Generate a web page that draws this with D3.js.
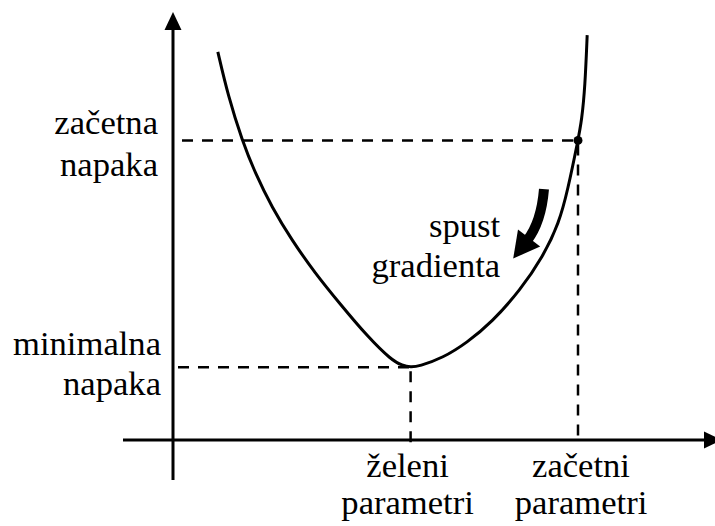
<!DOCTYPE html>
<html>
<head>
<meta charset="utf-8">
<script src="https://cdn.jsdelivr.net/npm/d3@7"></script>
<style>
  body { margin: 0; background: #fff; }
  svg { display: block; }
</style>
</head>
<body>
<svg id="chart"></svg>
<script>
///////////////////
/// CHART DATA  ///
///////////////////

// error curve (parameter, error)
const curveParams = [0.83, 1.02, 1.28, 1.52, 1.83, 2.20, 2.63, 3.10, 3.60, 4.05, 4.25, 4.40, 4.55,
                     5.00, 5.44, 5.91, 6.43, 6.85, 7.15, 7.31, 7.50, 7.57, 7.63, 7.67];
const curveErrors = [9.07, 8.04, 7.00, 6.24, 5.44, 4.67, 3.90, 3.17, 2.42, 1.86, 1.74, 1.70, 1.72,
                     1.92, 2.27, 2.76, 3.50, 4.28, 5.07, 5.84, 7.00, 7.48, 8.25, 9.46];

// marked points: start (začetni) and minimum (želeni)
const markParams = [7.50, 4.40];
const markErrors = [7.00, 1.70];

// labels
const yLabels = [['začetna', 'napaka'], ['minimalna', 'napaka']];
const xLabels = [['začetni', 'parametri'], ['želeni', 'parametri']];
const noteLabel = ['spust', 'gradienta'];

// gradient descent arrow (start, bend, tip) in data units
const arrowParams = [6.87, 6.82, 6.30];
const arrowErrors = [5.86, 5.09, 4.24];

///////////////////
/// SETUP       ///
///////////////////

const width = 715, height = 526;
const fontFamily = "'Liberation Serif', Tinos, 'Times New Roman', 'DejaVu Serif', serif";
const svg = d3.select('#chart').attr('width', width).attr('height', height);

const xScale = d3.scaleLinear().domain([0, 10]).range([173, 713]);
const yScale = d3.scaleLinear().domain([0, 10]).range([440, 12]);

const x0 = xScale(0), y0 = yScale(0);

// axes
const axes = svg.append('g').attr('stroke', '#000').attr('stroke-width', 3);
axes.append('line')
    .attr('x1', x0).attr('y1', y0 + 40)
    .attr('x2', x0).attr('y2', yScale(10) + 14);
axes.append('line')
    .attr('x1', x0 - 50).attr('y1', y0)
    .attr('x2', width - 8).attr('y2', y0);

// arrow heads
svg.append('path')
    .attr('d', d3.line()([[x0, yScale(10)], [x0 - 8.5, yScale(10) + 18], [x0 + 8.5, yScale(10) + 18]]))
    .attr('fill', '#000');
svg.append('path')
    .attr('d', d3.line()([[width + 7, y0], [width - 11, y0 - 8.5], [width - 11, y0 + 8.5]]))
    .attr('fill', '#000');

// dashed guides
const guides = svg.append('g')
    .attr('stroke', '#000')
    .attr('stroke-width', 2.5)
    .attr('stroke-dasharray', '11,9')
    .attr('fill', 'none');

markParams.forEach(function(p, i) {
    const e = markErrors[i];
    guides.append('line')
        .attr('x1', x0 + 9 - i * 4).attr('y1', yScale(e))
        .attr('x2', xScale(p)).attr('y2', yScale(e));
    guides.append('line')
        .attr('x1', xScale(p)).attr('y1', yScale(e) + 4)
        .attr('x2', xScale(p)).attr('y2', y0 + (i === 1 ? 6 : 0));
});

// error curve
const curveData = curveParams.map(function(p, i) { return [p, curveErrors[i]]; });
svg.append('path')
    .datum(curveData)
    .attr('fill', 'none')
    .attr('stroke', '#000')
    .attr('stroke-width', 3)
    .attr('d', d3.line()
        .x(function(d) { return xScale(d[0]); })
        .y(function(d) { return yScale(d[1]); })
        .curve(d3.curveBasis));

// start point
svg.append('circle')
    .attr('cx', xScale(markParams[0]))
    .attr('cy', yScale(markErrors[0]))
    .attr('r', 4.5)
    .attr('fill', '#000');

// gradient descent arrow
const S = [xScale(arrowParams[0]), yScale(arrowErrors[0])];
const C = [xScale(arrowParams[1]), yScale(arrowErrors[1])];
const T = [xScale(arrowParams[2]), yScale(arrowErrors[2])];
const headLen = 26, headHalf = 14;
const dx = T[0] - C[0], dy = T[1] - C[1];
const dl = Math.sqrt(dx * dx + dy * dy);
const ux = dx / dl, uy = dy / dl;
const B = [T[0] - headLen * ux, T[1] - headLen * uy];
svg.append('path')
    .attr('d', 'M' + S + 'Q' + C + ' ' + [B[0] + 3 * ux, B[1] + 3 * uy])
    .attr('fill', 'none')
    .attr('stroke', '#000')
    .attr('stroke-width', 10);
svg.append('path')
    .attr('d', d3.line()([T,
        [B[0] - headHalf * uy, B[1] + headHalf * ux],
        [B[0] + headHalf * uy, B[1] - headHalf * ux]]))
    .attr('fill', '#000');

///////////////////
/// LABELS      ///
///////////////////

const labels = svg.append('g')
    .style('font-family', fontFamily)
    .style('font-size', '35px')
    .attr('fill', '#000');

// fit font size so "minimalna" is ~148px wide whatever font is picked
const probe = labels.append('text').text('minimalna');
const probeW = probe.node().getComputedTextLength();
probe.remove();
const fontSize = probeW > 0 ? Math.min(38, 35 * 148 / probeW) : 35;
labels.style('font-size', fontSize + 'px');

// y-side labels
const yLabelOffsets = [[-6, 36], [-12, 28]];
yLabels.forEach(function(lines, i) {
    lines.forEach(function(t, j) {
        labels.append('text')
            .attr('x', x0 - 15 + i * 3)
            .attr('y', yScale(markErrors[i]) + yLabelOffsets[i][j])
            .attr('text-anchor', 'end')
            .text(t);
    });
});

// x-side labels
xLabels.forEach(function(lines, i) {
    lines.forEach(function(t, j) {
        labels.append('text')
            .attr('x', xScale(markParams[i]) + (i === 0 ? 3 : -3))
            .attr('y', y0 + 37 + j * 37)
            .attr('text-anchor', 'middle')
            .text(t);
    });
});

// annotation
noteLabel.forEach(function(t, j) {
    labels.append('text')
        .attr('x', T[0] - 13)
        .attr('y', T[1] - 22 + j * 40)
        .attr('text-anchor', 'end')
        .text(t);
});
</script>
</body>
</html>
